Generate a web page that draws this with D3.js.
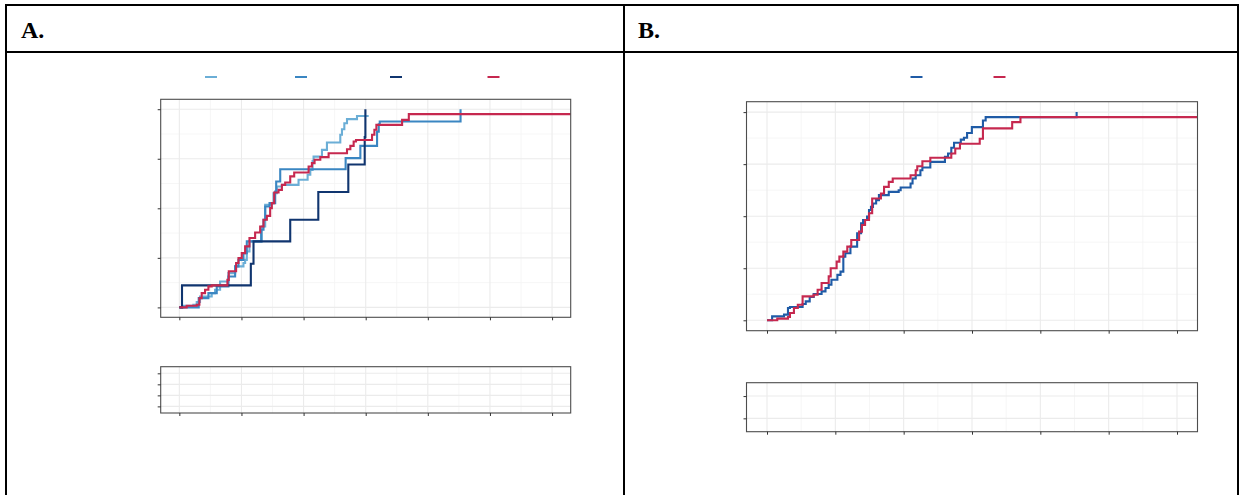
<!DOCTYPE html>
<html>
<head>
<meta charset="utf-8">
<script src="https://cdn.jsdelivr.net/npm/d3@7/dist/d3.min.js"></script>
<style>
  html, body { margin: 0; padding: 0; background: #fff; }
  svg { display: block; }
  .panel-label { font-family: "Liberation Serif", "Times New Roman", Times, serif; font-weight: bold; font-size: 24px; }
</style>
</head>
<body>
<svg id="fig" width="1240" height="495"></svg>
<script>
// Axis breaks shared by both panels
const xTicks = [0, 10, 20, 30, 40, 50, 60];
const xMinor = [5, 15, 25, 35, 45, 55];
const yTicks = [0, 0.25, 0.5, 0.75, 1];
const yMinor = [0.125, 0.375, 0.625, 0.875];

// Panel A strata
const strataA = ["a1", "a2", "a3", "a4"];
const colorsA = ["#6baed6", "#3a86c2", "#10356f", "#c6284f"];

const timeA1 = [0.65, 2.26, 2.80, 3.33, 5.21, 5.75, 6.56, 7.90, 8.98, 10.32, 10.59, 10.86, 11.29, 13.28, 13.82, 14.62, 15.16, 15.70, 16.51, 19.19, 20.65, 21.08, 21.45, 21.61, 22.96, 23.76, 25.91, 26.18, 26.56, 26.99, 28.60];
const cumA1  = [0.008, 0.013, 0.027, 0.055, 0.072, 0.089, 0.131, 0.173, 0.207, 0.224, 0.240, 0.282, 0.333, 0.408, 0.518, 0.526, 0.576, 0.610, 0.618, 0.644, 0.669, 0.694, 0.739, 0.761, 0.795, 0.832, 0.871, 0.899, 0.929, 0.950, 0.966];
const endA1 = 30.48;

const timeA2 = [3.12, 4.68, 6.02, 7.90, 8.98, 9.52, 10.32, 10.86, 13.17, 13.55, 13.82, 14.52, 15.43, 15.59, 16.24, 26.77, 29.14, 31.83, 32.10, 32.26, 45.27];
const cumA2  = [0.047, 0.072, 0.106, 0.156, 0.207, 0.240, 0.274, 0.333, 0.392, 0.442, 0.509, 0.526, 0.585, 0.635, 0.697, 0.753, 0.815, 0.887, 0.924, 0.938, 1.0];
const endA2 = 45.27;

const timeA3 = [0.43, 11.51, 11.94, 17.85, 22.37, 27.20, 29.84, 29.95];
const cumA3  = [0.111, 0.220, 0.333, 0.442, 0.582, 0.721, 0.859, 1.0];
const endA3 = 29.95;

const timeA4 = [1.18, 2.80, 3.23, 3.60, 4.14, 4.68, 5.21, 7.74, 7.96, 9.14, 9.52, 10.05, 10.59, 11.29, 12.20, 13.01, 13.55, 14.09, 14.62, 14.89, 15.27, 15.97, 16.51, 17.04, 17.85, 18.49, 20.81, 21.34, 21.77, 22.69, 24.03, 26.99, 27.53, 28.06, 28.44, 31.02, 31.40, 31.72, 35.86, 36.94];
const cumA4  = [0.008, 0.013, 0.047, 0.072, 0.089, 0.106, 0.111, 0.139, 0.182, 0.224, 0.249, 0.274, 0.308, 0.350, 0.378, 0.408, 0.442, 0.462, 0.501, 0.526, 0.580, 0.593, 0.618, 0.630, 0.661, 0.681, 0.711, 0.728, 0.745, 0.758, 0.778, 0.798, 0.815, 0.837, 0.845, 0.871, 0.896, 0.921, 0.946, 0.975];
const endA4 = 63;

// Panel B strata
const strataB = ["b1", "b2"];
const colorsB = ["#1f5ba6", "#c6284f"];

const timeB1 = [0.75, 2.49, 3.07, 3.36, 5.21, 5.67, 6.25, 6.83, 7.99, 8.56, 9.03, 9.43, 10.30, 10.76, 11.17, 11.46, 12.21, 13.19, 13.77, 14.06, 14.64, 14.93, 15.22, 15.51, 15.97, 16.38, 17.82, 19.27, 19.56, 21.01, 21.30, 21.76, 22.45, 22.74, 23.90, 26.04, 26.50, 26.97, 27.37, 28.36, 28.82, 29.28, 29.98, 31.60, 32.00, 45.31];
const cumB1  = [0.019, 0.027, 0.059, 0.064, 0.078, 0.091, 0.112, 0.126, 0.139, 0.155, 0.171, 0.195, 0.218, 0.234, 0.306, 0.322, 0.354, 0.418, 0.466, 0.482, 0.498, 0.530, 0.545, 0.561, 0.577, 0.601, 0.617, 0.625, 0.638, 0.657, 0.681, 0.697, 0.721, 0.734, 0.761, 0.785, 0.801, 0.829, 0.853, 0.868, 0.877, 0.900, 0.928, 0.960, 0.976, 1.0];
const endB1 = 45.31;

const timeB2 = [1.50, 3.07, 3.36, 3.94, 4.51, 5.21, 6.83, 7.41, 7.99, 9.03, 9.32, 10.19, 10.59, 11.17, 11.75, 12.33, 13.48, 13.89, 14.35, 14.93, 15.39, 16.67, 17.13, 17.82, 18.40, 21.01, 21.76, 21.99, 22.74, 23.90, 26.97, 27.55, 28.24, 31.13, 31.60, 35.88, 37.09];
const cumB2  = [0.008, 0.016, 0.035, 0.059, 0.075, 0.115, 0.123, 0.147, 0.179, 0.211, 0.250, 0.282, 0.306, 0.330, 0.354, 0.386, 0.426, 0.458, 0.482, 0.514, 0.585, 0.609, 0.641, 0.665, 0.681, 0.697, 0.721, 0.740, 0.764, 0.781, 0.801, 0.825, 0.848, 0.872, 0.922, 0.952, 0.976];
const endB2 = 63;

const seriesA = [
  { times: timeA1, cum: cumA1, end: endA1, color: colorsA[0] },
  { times: timeA2, cum: cumA2, end: endA2, color: colorsA[1] },
  { times: timeA3, cum: cumA3, end: endA3, color: colorsA[2] },
  { times: timeA4, cum: cumA4, end: endA4, color: colorsA[3] }
];
const seriesB = [
  { times: timeB1, cum: cumB1, end: endB1, color: colorsB[0] },
  { times: timeB2, cum: cumB2, end: endB2, color: colorsB[1] }
];

const svg = d3.select("#fig");
const GRID_MAJOR = "#ebebeb", GRID_MINOR = "#f4f4f4", FRAME = "#4d4d4d", TICK = "#333333";

// Outer table frame with header row
const frame = svg.append("g").attr("stroke", "#000").attr("stroke-width", 2);
frame.append("line").attr("x1", 5).attr("x2", 1238).attr("y1", 5).attr("y2", 5);
frame.append("line").attr("x1", 5).attr("x2", 1238).attr("y1", 52).attr("y2", 52);
frame.append("line").attr("x1", 6).attr("x2", 6).attr("y1", 4).attr("y2", 495);
frame.append("line").attr("x1", 624).attr("x2", 624).attr("y1", 4).attr("y2", 495);
frame.append("line").attr("x1", 1238).attr("x2", 1238).attr("y1", 4).attr("y2", 495);

svg.append("text").attr("class", "panel-label").attr("x", 21).attr("y", 38).text("A.");
svg.append("text").attr("class", "panel-label").attr("x", 638).attr("y", 38).text("B.");

function stepPoints(s) {
  const pts = [[0, 0]];
  s.times.forEach((t, i) => pts.push([t, s.cum[i]]));
  pts.push([s.end, s.cum[s.cum.length - 1]]);
  return pts;
}

function drawPanel(cfg) {
  const x = d3.scaleLinear().domain([-3, 63]).range([cfg.left, cfg.right]);
  const y = d3.scaleLinear().domain([-0.05, 1.05]).range([cfg.bottom, cfg.top]);
  const g = svg.append("g");

  // grid
  g.selectAll(".vmin").data(xMinor).join("line")
    .attr("x1", d => x(d)).attr("x2", d => x(d)).attr("y1", cfg.top).attr("y2", cfg.bottom)
    .attr("stroke", GRID_MINOR).attr("stroke-width", 0.8);
  g.selectAll(".hmin").data(yMinor).join("line")
    .attr("y1", d => y(d)).attr("y2", d => y(d)).attr("x1", cfg.left).attr("x2", cfg.right)
    .attr("stroke", GRID_MINOR).attr("stroke-width", 0.8);
  g.selectAll(".vmaj").data(xTicks).join("line")
    .attr("x1", d => x(d)).attr("x2", d => x(d)).attr("y1", cfg.top).attr("y2", cfg.bottom)
    .attr("stroke", GRID_MAJOR).attr("stroke-width", 1.1);
  g.selectAll(".hmaj").data(yTicks).join("line")
    .attr("y1", d => y(d)).attr("y2", d => y(d)).attr("x1", cfg.left).attr("x2", cfg.right)
    .attr("stroke", GRID_MAJOR).attr("stroke-width", 1.1);

  // step curves
  const line = d3.line().x(d => x(d[0])).y(d => y(d[1])).curve(d3.curveStepAfter);
  cfg.series.forEach(s => {
    g.append("path").attr("d", line(stepPoints(s)))
      .attr("fill", "none").attr("stroke", s.color).attr("stroke-width", 2.1);
  });

  // panel border
  g.append("rect").attr("x", cfg.left).attr("y", cfg.top)
    .attr("width", cfg.right - cfg.left).attr("height", cfg.bottom - cfg.top)
    .attr("fill", "none").attr("stroke", FRAME).attr("stroke-width", 1.1);

  // axes (ticks only)
  g.append("g").attr("transform", `translate(0,${cfg.bottom})`)
    .call(d3.axisBottom(x).tickValues(xTicks).tickFormat("").tickSize(3).tickSizeOuter(0))
    .call(a => a.select(".domain").remove())
    .call(a => a.selectAll("line").attr("stroke", TICK));
  g.append("g").attr("transform", `translate(${cfg.left},0)`)
    .call(d3.axisLeft(y).tickValues(yTicks).tickFormat("").tickSize(3).tickSizeOuter(0))
    .call(a => a.select(".domain").remove())
    .call(a => a.selectAll("line").attr("stroke", TICK));

  // risk table panel
  const yr = d3.scalePoint().domain(cfg.strata).range([cfg.rTop, cfg.rBottom]).padding(0.6);
  const r = svg.append("g");
  r.selectAll(".rvmin").data(xMinor).join("line")
    .attr("x1", d => x(d)).attr("x2", d => x(d)).attr("y1", cfg.rTop).attr("y2", cfg.rBottom)
    .attr("stroke", GRID_MINOR).attr("stroke-width", 0.8);
  r.selectAll(".rvmaj").data(xTicks).join("line")
    .attr("x1", d => x(d)).attr("x2", d => x(d)).attr("y1", cfg.rTop).attr("y2", cfg.rBottom)
    .attr("stroke", GRID_MAJOR).attr("stroke-width", 1.1);
  r.selectAll(".rh").data(cfg.strata).join("line")
    .attr("y1", d => yr(d)).attr("y2", d => yr(d)).attr("x1", cfg.left).attr("x2", cfg.right)
    .attr("stroke", GRID_MAJOR).attr("stroke-width", 1.1);
  r.append("rect").attr("x", cfg.left).attr("y", cfg.rTop)
    .attr("width", cfg.right - cfg.left).attr("height", cfg.rBottom - cfg.rTop)
    .attr("fill", "none").attr("stroke", FRAME).attr("stroke-width", 1.1);
  r.append("g").attr("transform", `translate(0,${cfg.rBottom})`)
    .call(d3.axisBottom(x).tickValues(xTicks).tickFormat("").tickSize(3).tickSizeOuter(0))
    .call(a => a.select(".domain").remove())
    .call(a => a.selectAll("line").attr("stroke", TICK));
  r.append("g").attr("transform", `translate(${cfg.left},0)`)
    .call(d3.axisLeft(yr).tickFormat("").tickSize(3).tickSizeOuter(0))
    .call(a => a.select(".domain").remove())
    .call(a => a.selectAll("line").attr("stroke", TICK));

  // legend keys
  const lg = svg.append("g");
  cfg.series.forEach((s, i) => {
    lg.append("line").attr("x1", cfg.legendX[i]).attr("x2", cfg.legendX[i] + 12)
      .attr("y1", 77).attr("y2", 77).attr("stroke", s.color).attr("stroke-width", 2);
  });
}

drawPanel({
  left: 160.7, right: 570.7, top: 99.3, bottom: 317.3,
  rTop: 366.7, rBottom: 413,
  series: seriesA, strata: strataA,
  legendX: [205, 295, 390, 487.5]
});
drawPanel({
  left: 746.5, right: 1197.5, top: 101.7, bottom: 330.7,
  rTop: 382.7, rBottom: 431.7,
  series: seriesB, strata: strataB,
  legendX: [910.5, 993.5]
});
</script>
</body>
</html>
